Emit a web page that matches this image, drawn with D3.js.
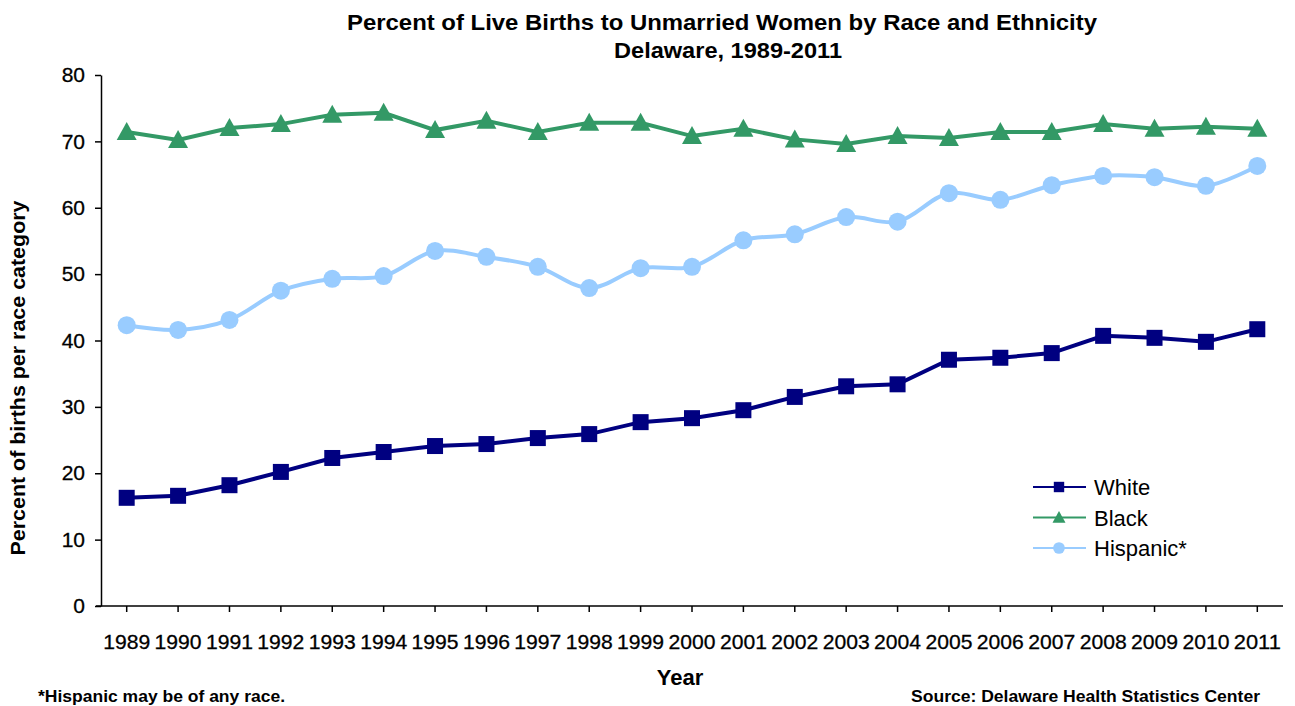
<!DOCTYPE html>
<html>
<head>
<meta charset="utf-8">
<script src="https://cdn.jsdelivr.net/npm/d3@7"></script>
<style>
  body { margin: 0; background: #fff; }
  svg { display: block; font-family: "Liberation Sans", Arial, sans-serif; }
</style>
</head>
<body>
<div id="chart"></div>
<script>
// years on the x axis
const years = ["1989","1990","1991","1992","1993","1994","1995","1996","1997","1998","1999",
  "2000","2001","2002","2003","2004","2005","2006","2007","2008","2009","2010","2011"];

// percent of births to unmarried women
const white = [16.3,16.6,18.2,20.2,22.3,23.2,24.1,24.4,25.3,25.9,27.7,28.3,29.5,31.5,33.1,33.4,37.1,37.4,38.1,40.7,40.4,39.8,41.7];
const black = [71.4,70.2,72.0,72.6,74.0,74.3,71.7,73.1,71.4,72.8,72.8,70.8,71.9,70.3,69.6,70.8,70.5,71.4,71.4,72.6,71.9,72.2,71.9];
const hispanic = [42.3,41.6,43.1,47.5,49.3,49.7,53.5,52.6,51.1,47.9,50.9,51.1,55.1,56.0,58.6,57.9,62.2,61.2,63.4,64.8,64.6,63.3,66.3];

const yTicks = [0,10,20,30,40,50,60,70,80];

const W = 1295, H = 706;
const plotLeft = 101, plotRight = 1283, plotTop = 75, plotBottom = 606;

const svg = d3.select("#chart").append("svg")
    .attr("width", W)
    .attr("height", H);

const x = d3.scaleBand().domain(years).range([plotLeft, plotRight]).padding(0);
const y = d3.scaleLinear().domain([0, 80]).range([plotBottom, plotTop]);
const cx = d => x(d) + x.bandwidth() / 2;

// title
svg.append("text")
    .attr("x", 722).attr("y", 30)
    .attr("text-anchor", "middle")
    .attr("font-weight", "bold").attr("font-size", 22)
    .attr("textLength", 750).attr("lengthAdjust", "spacingAndGlyphs")
    .text("Percent of Live Births to Unmarried Women by Race and Ethnicity");
svg.append("text")
    .attr("x", 728).attr("y", 58)
    .attr("text-anchor", "middle")
    .attr("font-weight", "bold").attr("font-size", 22)
    .attr("textLength", 228).attr("lengthAdjust", "spacingAndGlyphs")
    .text("Delaware, 1989-2011");

// y axis
const yAxis = svg.append("g")
    .attr("transform", `translate(${plotLeft},0)`)
    .call(d3.axisLeft(y).tickValues(yTicks).tickSize(6).tickSizeOuter(0).tickPadding(10));
yAxis.select(".domain").attr("stroke", "#000").attr("stroke-width", 1.5);
yAxis.selectAll(".tick line").attr("stroke", "#000").attr("stroke-width", 1.5);
yAxis.selectAll(".tick text")
    .attr("font-size", 21).attr("fill", "#000")
    .attr("stroke", "#000").attr("stroke-width", 0.3)
    .attr("font-family", "Liberation Sans, Arial, sans-serif");

// x axis
const xAxis = svg.append("g")
    .attr("transform", `translate(0,${plotBottom})`)
    .call(d3.axisBottom(x).tickSize(6).tickSizeOuter(0).tickPadding(22));
xAxis.select(".domain").attr("d", `M${plotLeft - 5},0H${plotRight}`)
    .attr("stroke", "#000").attr("stroke-width", 1.5);
xAxis.selectAll(".tick line").attr("stroke", "#000").attr("stroke-width", 1.5);
xAxis.selectAll(".tick text")
    .attr("font-size", 21).attr("fill", "#000")
    .attr("stroke", "#000").attr("stroke-width", 0.3)
    .attr("font-family", "Liberation Sans, Arial, sans-serif")
    .attr("textLength", 47).attr("lengthAdjust", "spacingAndGlyphs");

// axis titles
svg.append("text")
    .attr("transform", "translate(25,378) rotate(-90)")
    .attr("text-anchor", "middle")
    .attr("font-weight", "bold").attr("font-size", 21)
    .attr("textLength", 355).attr("lengthAdjust", "spacingAndGlyphs")
    .text("Percent of births per race category");
svg.append("text")
    .attr("x", 680).attr("y", 685)
    .attr("text-anchor", "middle")
    .attr("font-weight", "bold").attr("font-size", 22)
    .text("Year");

// footnotes
svg.append("text")
    .attr("x", 38).attr("y", 702)
    .attr("font-weight", "bold").attr("font-size", 16)
    .attr("textLength", 247).attr("lengthAdjust", "spacingAndGlyphs")
    .text("*Hispanic may be of any race.");
svg.append("text")
    .attr("x", 911).attr("y", 702)
    .attr("font-weight", "bold").attr("font-size", 16)
    .attr("textLength", 349).attr("lengthAdjust", "spacingAndGlyphs")
    .text("Source: Delaware Health Statistics Center");

const series = [
  { name: "White", values: white, color: "#000080", marker: "square", curve: d3.curveLinear },
  { name: "Black", values: black, color: "#339966", marker: "triangle", curve: d3.curveLinear },
  { name: "Hispanic*", values: hispanic, color: "#99CCFF", marker: "circle", curve: d3.curveCatmullRom.alpha(0.5) }
];

function drawMarker(sel, type, color) {
  if (type === "square") {
    sel.append("rect").attr("x", -8).attr("y", -8).attr("width", 16).attr("height", 16)
      .attr("fill", color);
  } else if (type === "triangle") {
    sel.append("path").attr("d", "M0,-10L10,8H-10Z").attr("fill", color);
  } else {
    sel.append("circle").attr("r", 9).attr("fill", color);
  }
}

// draw order: hispanic, black, white on top
[series[2], series[1], series[0]].forEach(s => {
  const line = d3.line()
      .x((d, i) => cx(years[i]))
      .y(d => y(d))
      .curve(s.curve);
  svg.append("path")
      .datum(s.values)
      .attr("fill", "none")
      .attr("stroke", s.color)
      .attr("stroke-width", 4)
      .attr("d", line);
  svg.append("g").selectAll("g")
      .data(s.values)
      .enter().append("g")
      .attr("transform", (d, i) => `translate(${cx(years[i])},${y(d)})`)
      .each(function() { drawMarker(d3.select(this), s.marker, s.color); });
});

// legend
const legend = svg.append("g");
series.forEach((s, i) => {
  const ly = 487 + i * 30.5;
  legend.append("line")
      .attr("x1", 1033).attr("x2", 1086).attr("y1", ly).attr("y2", ly)
      .attr("stroke", s.color).attr("stroke-width", 2);
  const m = legend.append("g").attr("transform", `translate(1059,${ly}) scale(0.65)`);
  drawMarker(m, s.marker, s.color);
  legend.append("text")
      .attr("x", 1094).attr("y", ly + 8)
      .attr("font-size", 22)
      .text(s.name);
});
</script>
</body>
</html>
